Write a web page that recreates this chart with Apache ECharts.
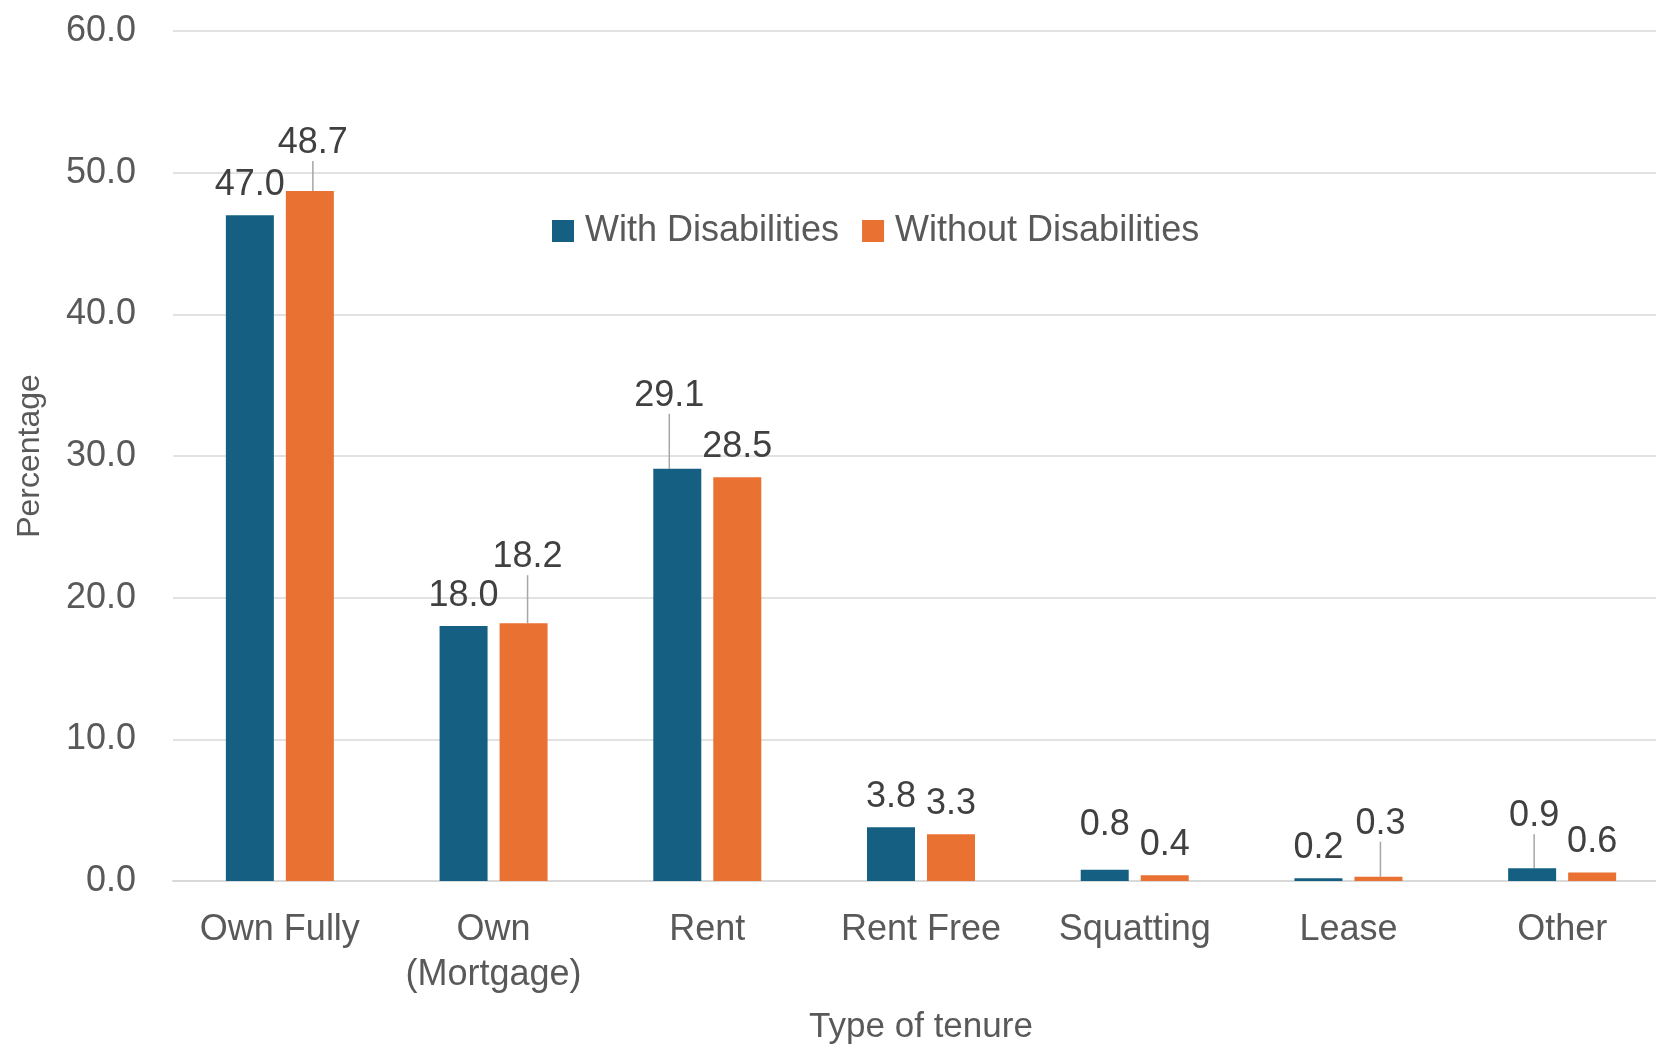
<!DOCTYPE html>
<html>
<head>
<meta charset="utf-8">
<script src="https://cdn.jsdelivr.net/npm/echarts@6/dist/echarts.min.js"></script>
<style>
html,body{margin:0;padding:0;background:#fff;overflow:hidden;}
#chart{width:1656px;height:1045px;}
</style>
</head>
<body>
<div id="chart"></div>
<script>
const categories = ['Own Fully', 'Own\n(Mortgage)', 'Rent', 'Rent Free', 'Squatting', 'Lease', 'Other'];
const withDisabilities = [47.0, 18.0, 29.1, 3.8, 0.8, 0.2, 0.9];
const withoutDisabilities = [48.7, 18.2, 28.5, 3.3, 0.4, 0.3, 0.6];
const seriesNames = ['With Disabilities', 'Without Disabilities'];
const yTicks = {min: 0, max: 60, interval: 10};

// label nudges (Excel-style moved labels), keyed by series then category index
const labelMoves = [
  {2: [-8, -43, true], 4: [0, -15, false], 6: [2, -22, true]},
  {0: [3, -18, true], 1: [4, -36, true], 5: [2, -23, true]}
];

const FONT = "'Liberation Sans', Arial, sans-serif";
const chart = echarts.init(document.getElementById('chart'), null, {renderer: 'canvas'});

function mkData(vals, s) {
  return vals.map((v, i) => ({
    value: v,
    labelLine: {show: !!(labelMoves[s][i] && labelMoves[s][i][2])}
  }));
}

const commonSeries = {
  type: 'bar',
  barWidth: 48,
  barGap: '25%',
  label: {
    show: true,
    position: 'top',
    distance: 12,
    fontFamily: FONT,
    fontSize: 36,
    lineHeight: 36,
    color: '#404040',
    formatter: p => p.value.toFixed(1)
  },
  labelLine: {lineStyle: {color: '#a6a6a6', width: 1.5}},
  labelLayout: function (p) {
    const m = labelMoves[p.seriesIndex][p.dataIndex];
    if (!m) return {};
    return {dx: m[0], dy: m[1]};
  }
};

chart.setOption({
  animation: false,
  backgroundColor: '#fff',
  grid: {left: 173, width: 1496, top: 31, bottom: 164, containLabel: false, outerBoundsMode: 'none'},
  legend: {
    data: seriesNames,
    left: 547,
    top: 208,
    itemWidth: 22,
    itemHeight: 22,
    itemGap: 23,
    icon: 'rect',
    textStyle: {fontFamily: FONT, fontSize: 36, color: '#595959', padding: [0, 0, 0, 6]}
  },
  xAxis: {
    type: 'category',
    data: categories,
    axisLine: {lineStyle: {color: '#d9d9d9', width: 2}},
    axisTick: {show: false},
    axisLabel: {
      fontFamily: FONT, fontSize: 36, lineHeight: 45, color: '#595959', margin: 27, interval: 0
    },
    name: 'Type of tenure',
    nameLocation: 'middle',
    nameGap: 129,
    nameTextStyle: {fontFamily: FONT, fontSize: 35, color: '#595959'}
  },
  yAxis: {
    type: 'value',
    min: yTicks.min,
    max: yTicks.max,
    interval: yTicks.interval,
    axisLine: {show: false},
    axisTick: {show: false},
    splitLine: {lineStyle: {color: '#d9d9d9', width: 1.5}},
    axisLabel: {
      fontFamily: FONT, fontSize: 36, color: '#595959', margin: 37,
      formatter: v => v.toFixed(1)
    },
    name: 'Percentage',
    nameLocation: 'middle',
    nameRotate: 90,
    nameGap: 127,
    nameTextStyle: {fontFamily: FONT, fontSize: 32, color: '#595959'}
  },
  series: [
    Object.assign({}, commonSeries, {
      name: seriesNames[0],
      itemStyle: {color: '#156082'},
      data: mkData(withDisabilities, 0)
    }),
    Object.assign({}, commonSeries, {
      name: seriesNames[1],
      itemStyle: {color: '#E97132'},
      data: mkData(withoutDisabilities, 1)
    })
  ]
});
</script>
</body>
</html>
